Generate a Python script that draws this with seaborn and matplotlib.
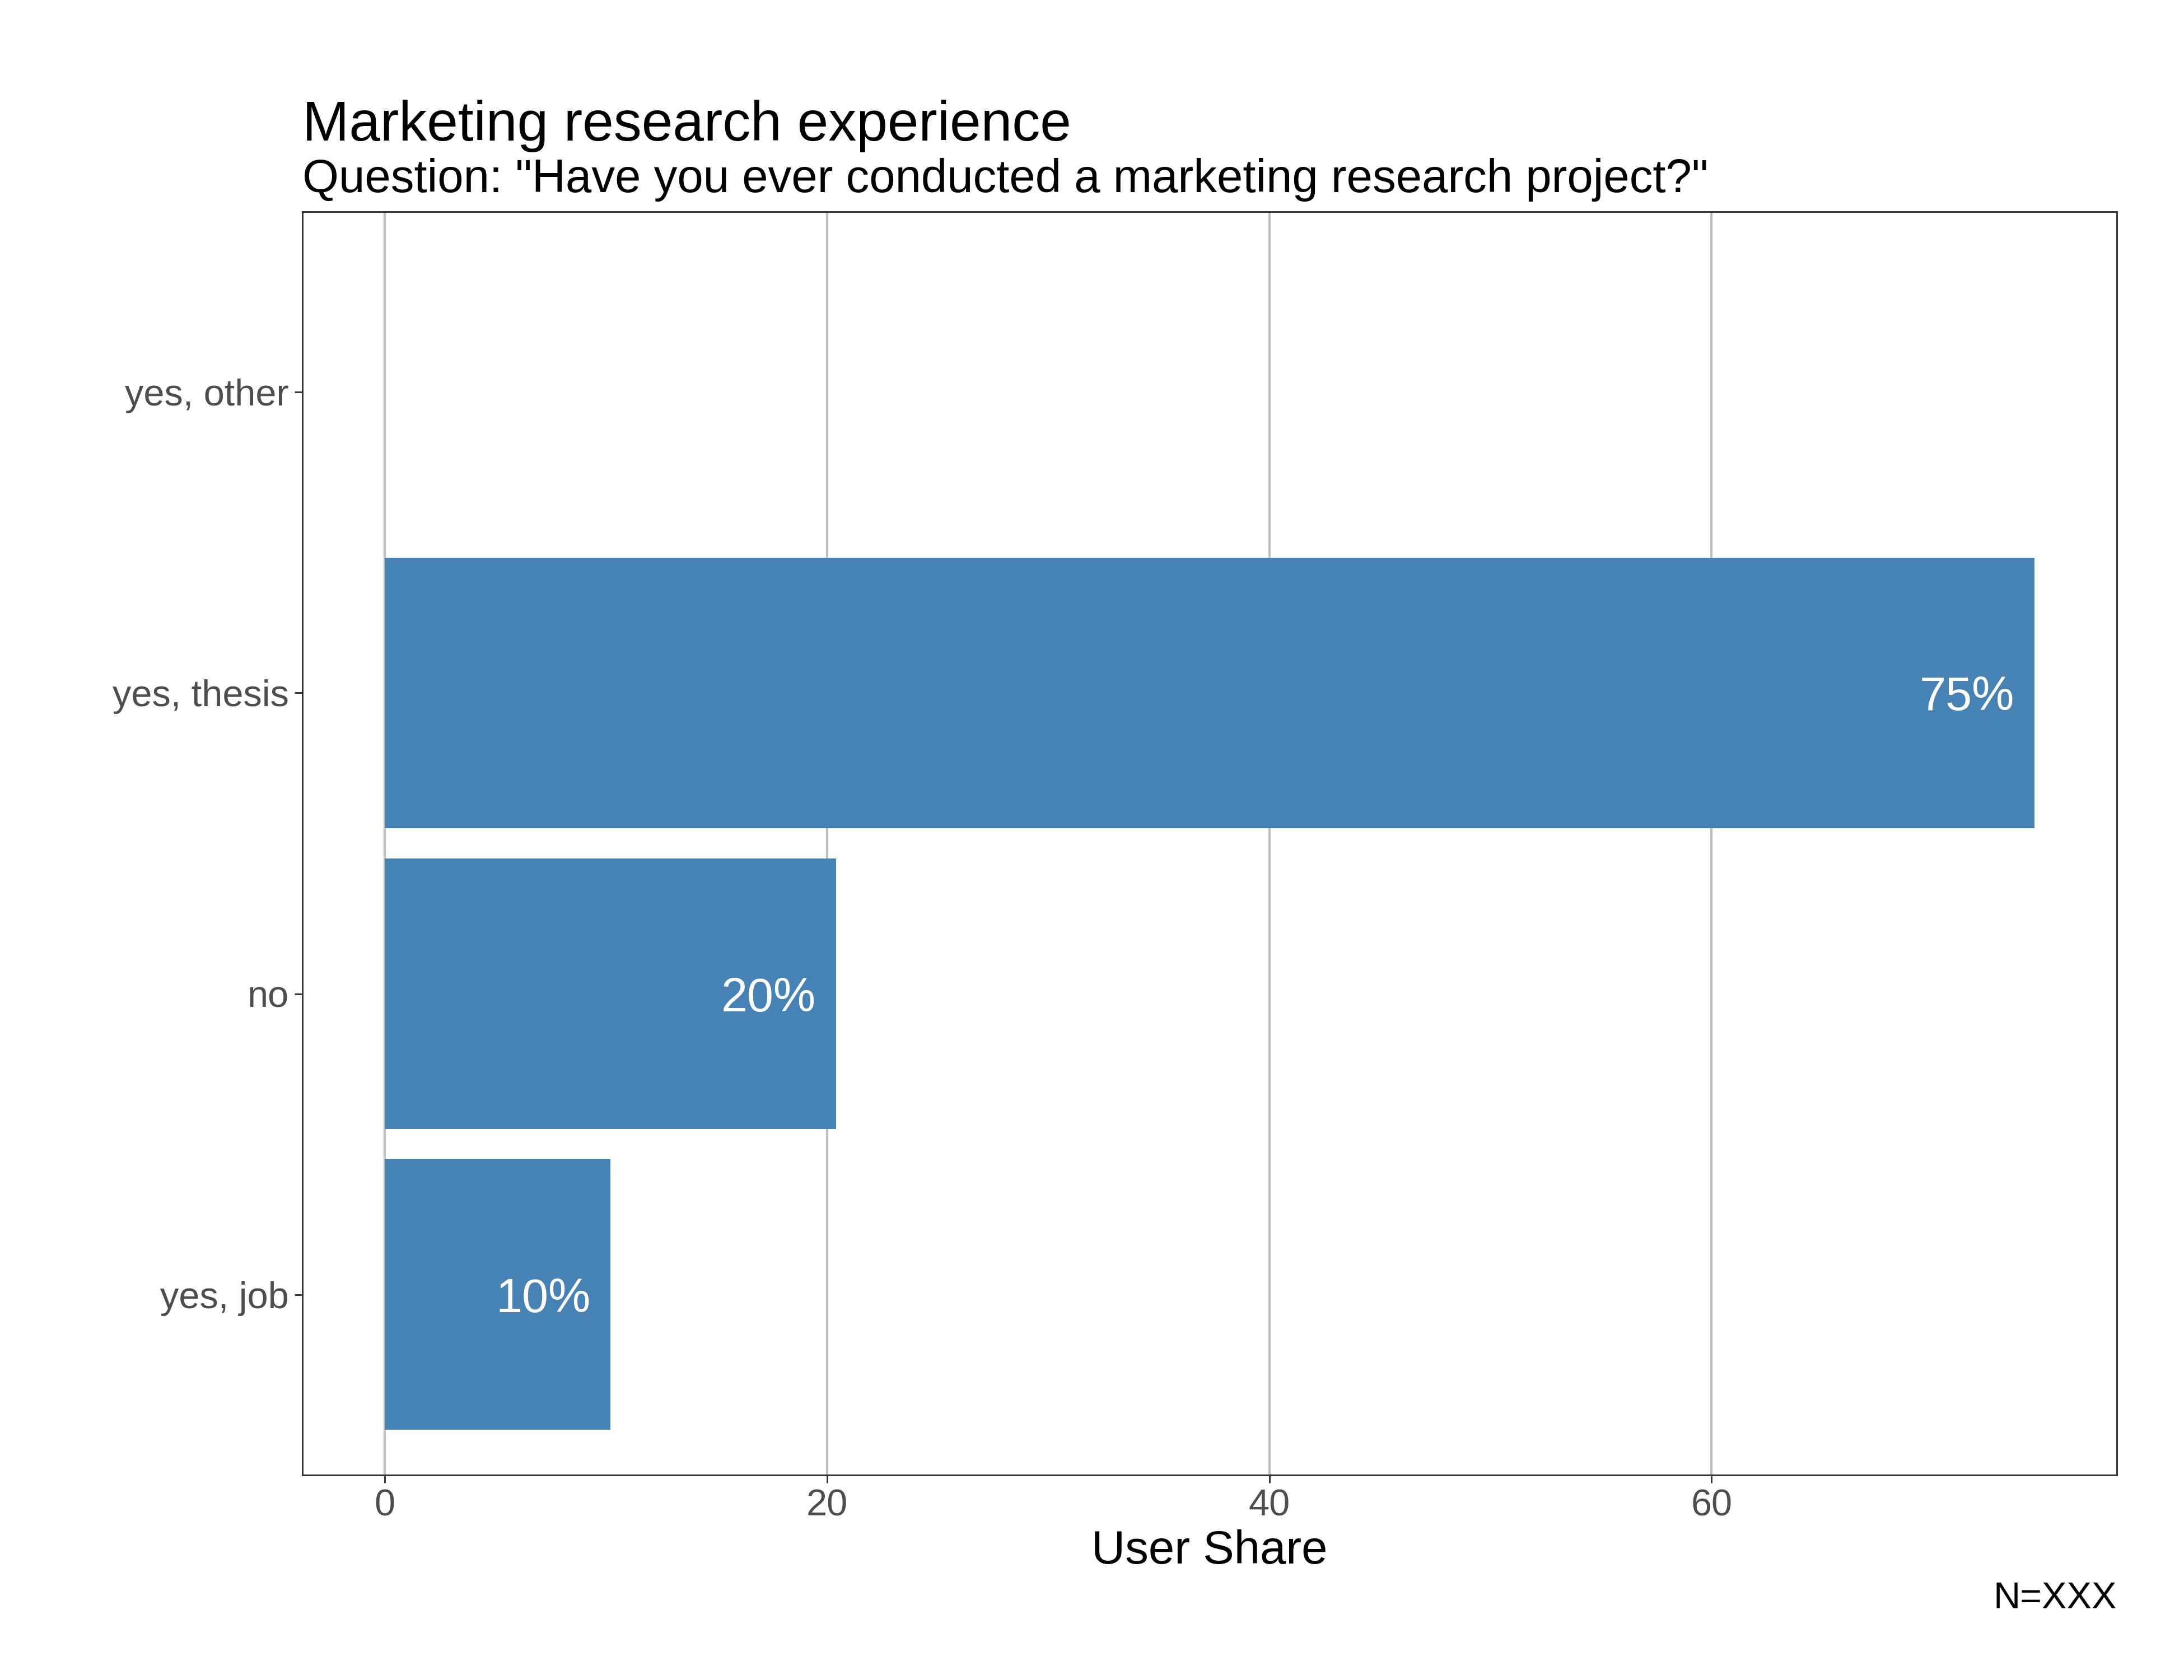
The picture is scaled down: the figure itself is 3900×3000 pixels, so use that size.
import matplotlib
matplotlib.use("Agg")
import matplotlib.pyplot as plt
import seaborn as sns
import pandas as pd

categories = ["yes, other", "yes, thesis", "no", "yes, job"]
shares = [0.0, 74.6, 20.4, 10.2]
bar_labels = ["", "75%", "20%", "10%"]
x_ticks = [0, 20, 40, 60]

title = "Marketing research experience"
subtitle = 'Question: "Have you ever conducted a marketing research project?"'
x_title = "User Share"
caption = "N=XXX"

sns.set_theme(style="white")
plt.rcParams["font.family"] = ["Liberation Sans", "DejaVu Sans"]

df = pd.DataFrame({"answer": categories, "share": shares})

fig = plt.figure(figsize=(13, 10), dpi=300)
ax = fig.add_axes([0.1385, 0.122, 0.9692 - 0.1385, 0.874 - 0.122])

sns.barplot(data=df, x="share", y="answer", order=categories, orient="h",
            color="#4682B4", saturation=1, width=0.9, ax=ax, zorder=2,
            linewidth=0, edgecolor="none")

for i, (v, lab) in enumerate(zip(shares, bar_labels)):
    if lab:
        ax.annotate(lab, xy=(v, i), xytext=(-8.6, 0), textcoords="offset points",
                    ha="right", va="center_baseline", color="white", fontsize=20.3)

xmax = max(shares)
ax.set_xlim(-0.05 * xmax, 1.05 * xmax)
ax.set_ylim(len(categories) - 1 + 0.6, -0.6)
ax.set_xticks(x_ticks)
ax.set_xticklabels([str(t) for t in x_ticks])

ax.grid(axis="x", color="#BEBEBE", linewidth=1.0, zorder=0)
ax.grid(axis="y", visible=False)
ax.set_axisbelow(True)

for s in ax.spines.values():
    s.set_visible(True)
    s.set_color("#333333")
    s.set_linewidth(0.7)

ax.tick_params(axis="both", which="major", length=3.4, width=0.7, color="#333333",
               labelsize=16, labelcolor="#4D4D4D", pad=2.5, bottom=True, left=True)

ax.set_ylabel("")
ax.set_xlabel(x_title, fontsize=20, color="black", labelpad=2.5)

fig.text(0.1385, 0.9163, title, fontsize=24, ha="left", va="baseline", color="black")
fig.text(0.1385, 0.8857, subtitle, fontsize=20, ha="left", va="baseline", color="black")
fig.text(0.9692, 0.0427, caption, fontsize=16, ha="right", va="baseline", color="black")

fig.savefig("out.png", dpi=300, facecolor="white")
